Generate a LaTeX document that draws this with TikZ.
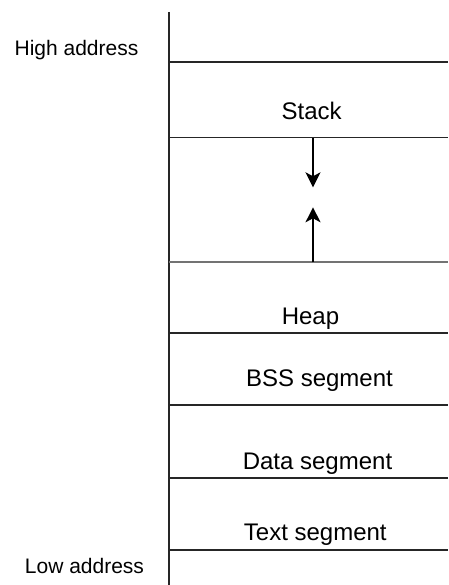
\documentclass[tikz,border=0pt]{standalone}
\usepackage{fontspec}
\setmainfont{Liberation Sans}
\usetikzlibrary{arrows.meta}
\begin{document}
\begin{tikzpicture}[x=1pt,y=-1pt,
  seg/.style={anchor=base,inner sep=0pt,font=\fontsize{24}{28}\selectfont},
  addr/.style={anchor=base,inner sep=0pt,font=\fontsize{21}{25}\selectfont},
  divider/.style={line width=1.6pt,black!85},
  growth/.style={line width=1.4pt,-{Stealth[length=15pt,width=15pt,inset=4pt]}}]
\useasboundingbox (0,0) rectangle (448,585);
% axis
\coordinate (axtop) at (169,12);
\coordinate (axbot) at (169,585);
\draw[divider] (axtop) -- (axbot);
% dividers
\foreach \yy in {62,137.7,333,405,478,550}
  \draw[divider] (169,\yy) -- (448,\yy);
\draw[line width=2.2pt,black!55] (169,262.3) -- (448,262.3);
% labels
\node[addr] (high) at (76.5,56) {High address};
\node[addr] (low) at (84.5,573.3) {Low address};
\node[seg] (stack) at (311.7,119.3) {Stack};
\node[seg] (heap) at (310.5,324) {Heap};
\node[seg] (bss) at (319.5,386.7) {BSS segment};
\node[seg] (data) at (317.5,469.3) {Data segment};
\node[seg] (text) at (315.3,540.7) {Text segment};
% growth arrows
\coordinate (sTop) at (313,137.7);
\coordinate (sTip) at (313,187.3);
\coordinate (hBot) at (313,262.3);
\coordinate (hTip) at (313,207.3);
\draw[growth] (sTop) -- (sTip);
\draw[growth] (hBot) -- (hTip);
\end{tikzpicture}
\end{document}
